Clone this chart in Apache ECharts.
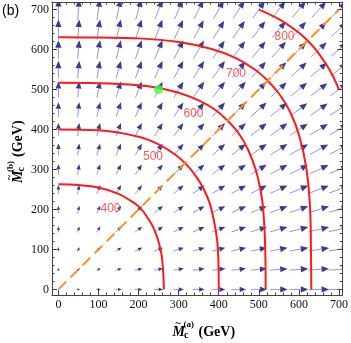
<!DOCTYPE html>
<html>
<head>
<meta charset="utf-8">
<script src="https://cdn.jsdelivr.net/npm/echarts@6/dist/echarts.min.js"></script>
<style>
  html, body { margin: 0; padding: 0; background: #fff; }
  #chart { width: 351px; height: 343px; }
</style>
</head>
<body>
<div id="chart"></div>
<script>
// grid of vector points
const gridX = [0, 50, 100, 150, 200, 250, 300, 350, 400, 450, 500, 550, 600, 650, 700];
const gridY = [0, 50, 100, 150, 200, 250, 300, 350, 400, 450, 500, 550, 600, 650, 700];

// contour curves
const c400 = [[0, 263], [50, 261], [100, 255], [150, 239], [180, 222], [204, 204], [222, 180], [239, 150], [255, 100], [261, 50], [263, 0]];
const c500 = [[0, 400], [100, 398], [200, 382], [250, 363], [290, 338], [316, 316], [338, 290], [363, 250], [382, 200], [398, 100], [400, 0]];
const c600 = [[0, 517], [100, 516], [200, 511], [250, 504], [300, 492], [350, 473], [390, 450], [422, 422], [450, 390], [473, 350], [492, 300], [504, 250], [511, 200], [516, 100], [517, 0]];
const c700 = [[0, 631], [100, 630], [200, 628], [300, 619], [380, 602], [440, 580], [490, 550], [522, 522], [550, 490], [580, 440], [602, 380], [619, 300], [628, 200], [630, 100], [631, 0]];
const c800 = [[500, 700], [550, 676], [600, 642], [622, 622], [642, 600], [676, 550], [700, 500]];

const contourLevels = ['400', '500', '600', '700', '800'];
const labelAt = [[130, 203], [236, 331], [337, 439], [443, 540], [564, 633]];

const diagLine = [[0, 0], [700, 700]];
const greenPoint = [250, 500];

const xMajor = [0, 100, 200, 300, 400, 500, 600, 700];
const yMajor = [0, 100, 200, 300, 400, 500, 600, 700];

function minorOf(major, hi) {
    const out = [];
    major.forEach(function (m) {
        for (let k = 20; k < 100; k += 20) {
            if (m + k <= hi) out.push(m + k);
        }
    });
    return out;
}
const xMinor = minorOf(xMajor, 708);
const yMinor = minorOf(yMajor, 719);

const gridPts = [];
gridX.forEach(function (x) {
    gridY.forEach(function (y) {
        gridPts.push([x, y]);
    });
});

function renderArrow(params, api) {
    const x = api.value(0), y = api.value(1);
    const mag = Math.hypot(x, y);
    if (mag === 0) return null;
    const c = api.coord([x, y]);
    const ux = x / mag, uy = -y / mag;
    const len = Math.min(21, 2 + 0.028 * mag);
    const head = Math.min(7.5, 1.6 + 0.33 * len);
    const half = head * 0.42;
    const tx = c[0] + ux * len / 2, ty = c[1] + uy * len / 2;
    const sx = c[0] - ux * len / 2, sy = c[1] - uy * len / 2;
    const bx = tx - ux * head, by = ty - uy * head;
    return {
        type: 'group',
        children: [
            { type: 'line', shape: { x1: sx, y1: sy, x2: bx, y2: by },
              style: { stroke: 'rgba(60,60,165,0.6)', lineWidth: 0.9 } },
            { type: 'polygon',
              shape: { points: [[tx, ty], [bx - uy * half, by + ux * half], [bx + uy * half, by - ux * half]] },
              style: { fill: '#3a3a99' } }
        ]
    };
}

const serif = '"Liberation Serif", "Times New Roman", serif';
const frameColor = '#444';

function xAxisOf(pos, ticks, len, labels, line) {
    return {
        type: 'value', min: -16, max: 708, position: pos,
        axisLine: { show: line, onZero: false, lineStyle: { color: frameColor, width: 1 } },
        axisTick: { show: true, inside: true, length: len, customValues: ticks, lineStyle: { color: frameColor } },
        axisLabel: { show: labels, customValues: ticks, fontFamily: serif, fontSize: 12, color: '#111', margin: 4 },
        splitLine: { show: false }
    };
}
function yAxisOf(pos, ticks, len, labels, line) {
    return {
        type: 'value', min: -14, max: 719, position: pos,
        axisLine: { show: line, onZero: false, lineStyle: { color: frameColor, width: 1 } },
        axisTick: { show: true, inside: true, length: len, customValues: ticks, lineStyle: { color: frameColor } },
        axisLabel: { show: labels, customValues: ticks, fontFamily: serif, fontSize: 12, color: '#111', margin: 3 },
        splitLine: { show: false }
    };
}

function contourSeries(pts) {
    return {
        type: 'line', data: pts, smooth: 0.4, showSymbol: false, clip: true, z: 3,
        lineStyle: { color: '#ff1a1a', width: 2 }
    };
}

function titleGroup(x, y, rot, sup) {
    return {
        type: 'group', x: x, y: y, rotation: rot,
        children: [
            { type: 'text', x: 0, y: 0, style: { text: 'M', font: 'italic bold 14px ' + serif, fill: '#000', verticalAlign: 'middle' } },
            { type: 'text', x: 3, y: -9, style: { text: '~', font: 'bold 10px ' + serif, fill: '#000', verticalAlign: 'middle' } },
            { type: 'text', x: 11.5, y: 3, style: { text: 'c', font: 'bold 10px ' + serif, fill: '#000', verticalAlign: 'middle' } },
            { type: 'text', x: 11, y: -7.5, style: { text: sup, font: 'bold 9px ' + serif, fill: '#000', verticalAlign: 'middle' } },
            { type: 'text', x: 26, y: 0.5, style: { text: '(GeV)', font: 'bold 14px ' + serif, fill: '#000', verticalAlign: 'middle' } }
        ]
    };
}

const chart = echarts.init(document.getElementById('chart'));
chart.setOption({
    animation: false,
    grid: { left: 52, right: 6, top: 2, bottom: 48 },
    xAxis: [
        xAxisOf('bottom', xMajor, 5, true, true),
        xAxisOf('bottom', xMinor, 2.5, false, false),
        xAxisOf('top', xMajor, 5, false, true),
        xAxisOf('top', xMinor, 2.5, false, false)
    ],
    yAxis: [
        yAxisOf('left', yMajor, 5, true, true),
        yAxisOf('left', yMinor, 2.5, false, false),
        yAxisOf('right', yMajor, 5, false, true),
        yAxisOf('right', yMinor, 2.5, false, false)
    ],
    series: [
        {
            type: 'custom', data: gridPts, renderItem: renderArrow, clip: true, z: 1
        },
        contourSeries(c400),
        contourSeries(c500),
        contourSeries(c600),
        contourSeries(c700),
        contourSeries(c800),
        {
            type: 'line', data: diagLine, showSymbol: false, clip: true, z: 4,
            lineStyle: { color: '#ff8c1a', width: 2, type: [11, 6] }
        },
        {
            type: 'scatter', z: 5, symbolSize: 0,
            data: labelAt.map(function (p, i) { return { value: p, name: contourLevels[i] }; }),
            label: {
                show: true, position: 'inside', formatter: '{b}',
                fontFamily: '"Liberation Sans", Arial, sans-serif', fontSize: 12, color: '#ff2a2a'
            }
        },
        {
            type: 'scatter', z: 6, data: [greenPoint], symbolSize: 9,
            itemStyle: { color: '#3dff3d' }
        }
    ],
    graphic: [
        { type: 'text', x: 2, y: 11, style: { text: '(b)', font: '14px "Liberation Sans", Arial, sans-serif', fill: '#000', verticalAlign: 'middle' } },
        titleGroup(172.5, 332, 0, '(a)'),
        titleGroup(18, 183, Math.PI / 2, '(b)')
    ]
});
</script>
</body>
</html>
